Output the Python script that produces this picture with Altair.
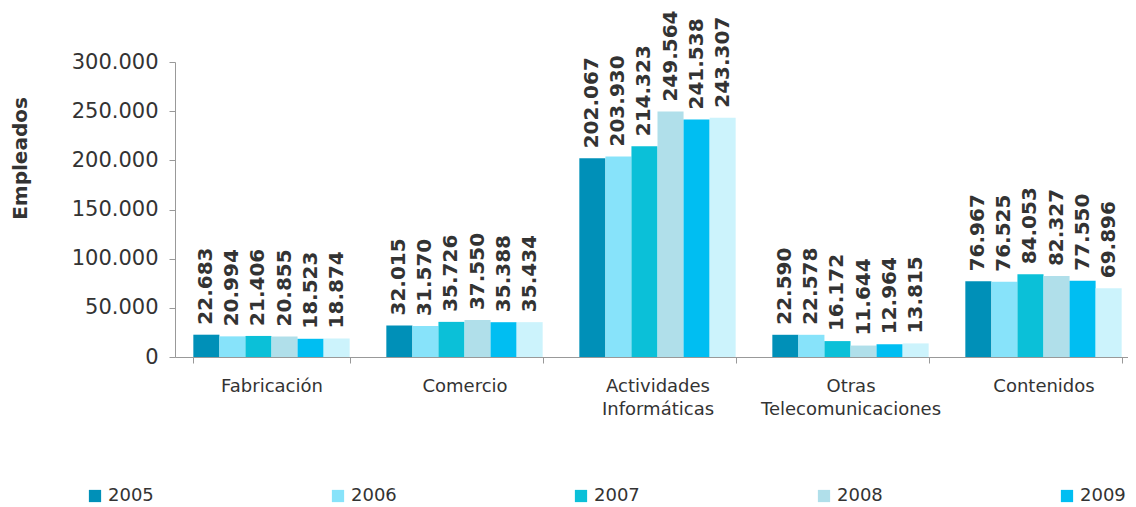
import altair as alt
import pandas as pd

categories = ["Fabricación", "Comercio", "Actividades Informáticas",
              "Otras Telecomunicaciones", "Contenidos"]
years = ["2005", "2006", "2007", "2008", "2009", "2010"]
v2005 = [22683, 32015, 202067, 22590, 76967]
v2006 = [20994, 31570, 203930, 22578, 76525]
v2007 = [21406, 35726, 214323, 16172, 84053]
v2008 = [20855, 37550, 249564, 11644, 82327]
v2009 = [18523, 35388, 241538, 12964, 77550]
v2010 = [18874, 35434, 243307, 13815, 69896]
colors = ["#0090B8", "#87E3FA", "#0BC0D8", "#B0DFEA", "#00BEF2", "#CCF3FC"]
legend_years = years[:5]
y_ticks = [0, 50000, 100000, 150000, 200000, 250000, 300000]

series = [v2005, v2006, v2007, v2008, v2009, v2010]
rows = []
for yr, vals in zip(years, series):
    for cat, v in zip(categories, vals):
        rows.append({"cat": cat, "year": yr, "v": v,
                     "label": f"{v:,}".replace(",", ".")})
df = pd.DataFrame(rows)

FONT = "DejaVu Sans"

base = alt.Chart(df).encode(
    x=alt.X("cat:N", sort=categories,
            scale=alt.Scale(paddingInner=0.19, paddingOuter=0.095,
                            range=[0, 965]),
            axis=alt.Axis(title=None, labelAngle=0,
                          labelExpr="split(datum.label, ' ')",
                          labelFont=FONT, labelFontSize=18, labelColor="#333",
                          labelLineHeight=23, labelBaseline="top",
                          labelPadding=14, labelLimit=0,
                          tickBand="extent", tickSize=6,
                          domainColor="#999", tickColor="#999")),
    xOffset=alt.XOffset("year:N", sort=years,
                        scale=alt.Scale(paddingInner=0, paddingOuter=0)),
    y=alt.Y("v:Q", scale=alt.Scale(domain=[0, 300000], nice=False),
            axis=alt.Axis(values=y_ticks, grid=False,
                          labelExpr="replace(format(datum.value, ',d'), ',', '.')",
                          labelFont=FONT, labelFontSize=21, labelColor="#333",
                          labelPadding=11, tickSize=6,
                          domainColor="#999", tickColor="#999",
                          title="Empleados", titleFont=FONT, titleFontSize=20,
                          titleFontWeight="bold", titleColor="#333",
                          titleAngle=270, titleBaseline="middle",
                          titleAlign="center", titleX=-155, titleY=96)),
)

bars = base.mark_bar().encode(
    color=alt.Color("year:N", sort=years,
                    scale=alt.Scale(domain=years, range=colors),
                    legend=alt.Legend(orient="none", legendX=-89, legendY=425,
                                      direction="horizontal", columns=5,
                                      values=legend_years, title=None,
                                      symbolType="square", symbolSize=150,
                                      symbolStrokeWidth=0,
                                      labelFont=FONT, labelFontSize=18,
                                      labelColor="#333", labelLimit=0,
                                      columnPadding=175))
)

text = base.mark_text(angle=270, align="left", baseline="middle", dx=10,
                      font=FONT, fontSize=20, fontWeight="bold",
                      color="#333").encode(text="label:N")

chart = alt.layer(bars, text).properties(
    width=953, height=295,
    autosize=alt.AutoSizeParams(type="none"),
    padding={"left": 167, "top": 54, "right": 0, "bottom": 150},
    background="white",
).configure_view(strokeWidth=0)

chart.save("out.html", embed_options={"renderer": "svg", "actions": False})
